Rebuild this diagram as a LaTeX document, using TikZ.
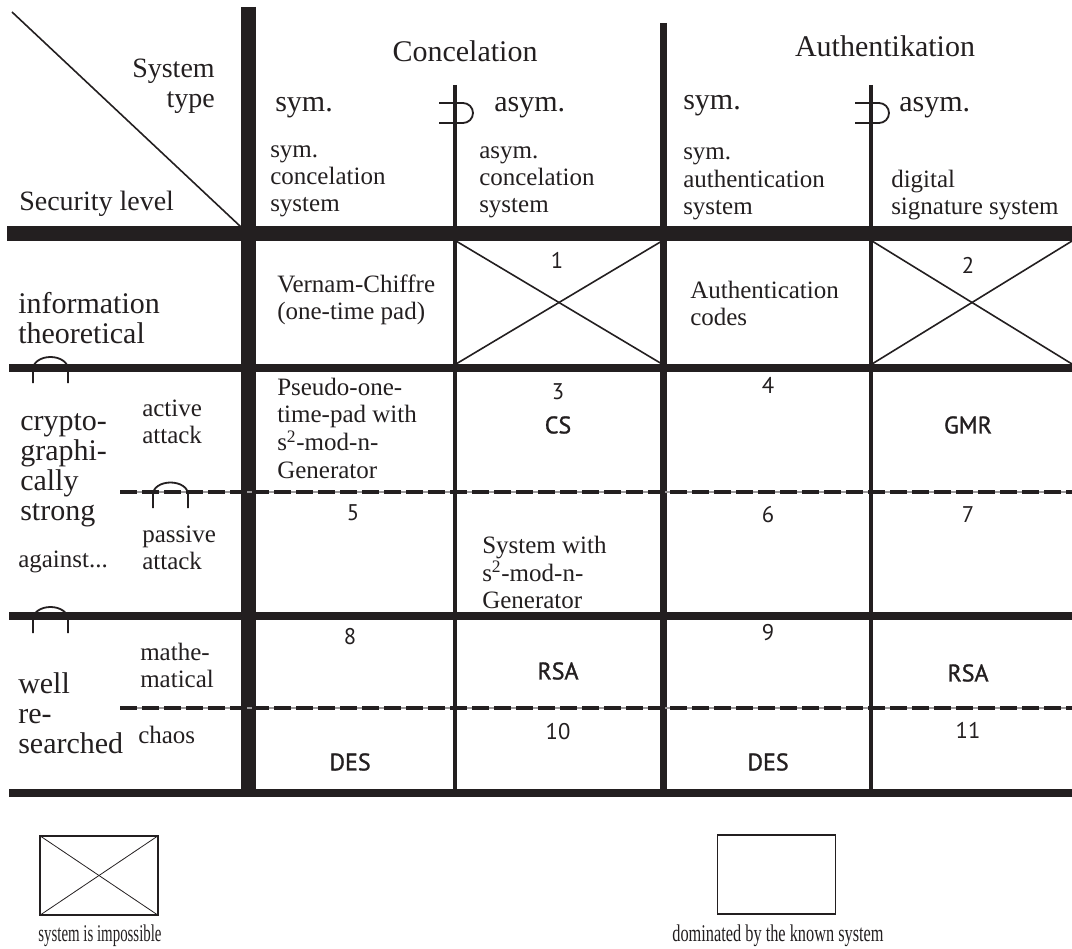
\documentclass[tikz,border=0pt]{standalone}
\usepackage{fontspec}
\setmainfont{Liberation Serif}
\newfontfamily\numfam{PT Sans}
\newfontfamily\namefam{PT Sans}[FakeBold=1.2]
\definecolor{ink}{HTML}{231F20}
% multi-line text blocks whose reference point is the first baseline
\newcommand{\lstack}[1]{\begin{tabular}[t]{@{}l@{}}#1\end{tabular}}
\newcommand{\rstack}[1]{\begin{tabular}[t]{@{}r@{}}#1\end{tabular}}
\newcommand{\bigtxt}{\fontsize{22.5}{22.5}\selectfont}
\newcommand{\hdrtxt}{\fontsize{21}{22.5}\selectfont}
\newcommand{\smalltxt}{\fontsize{18.75}{20.6}\selectfont}
\newcommand{\numtxt}{\numfam\fontsize{17}{20}\selectfont}
\newcommand{\nametxt}{\namefam\fontsize{18}{20}\selectfont}
\newcommand{\legtxt}{\fontsize{18}{20}\selectfont}
\newcommand{\narrow}[2]{\scalebox{#1}[1]{#2}}
\begin{document}
\begin{tikzpicture}[x=0.75pt,y=-0.75pt,
  every node/.style={inner sep=0pt, text=ink},
  big/.style={font=\bigtxt},
  hdr/.style={font=\hdrtxt},
  small/.style={font=\smalltxt},
  legtext/.style={font=\legtxt, anchor=base},
  num/.style={font=\numtxt, anchor=center},
  sysname/.style={font=\nametxt, anchor=center},
  heavyrule/.style={draw=ink, line width=11.25pt},
  rowrule/.style={draw=ink, line width=6pt},
  splitrule/.style={draw=ink, line width=5.25pt},
  subrule/.style={draw=ink, line width=2.6pt},
  dashrule/.style={draw=ink, line width=3pt, dash pattern=on 13pt off 3.5pt},
  gapline/.style={draw=ink!45, line width=1.5pt},
  thinline/.style={draw=ink, line width=1.2pt},
  marker/.style={draw=ink, line width=1.35pt},
  legendbox/.style={draw=ink, line width=0.8pt, minimum width=88.5pt, minimum height=59.25pt},
  legendline/.style={draw=ink, line width=0.6pt}
]
\useasboundingbox (0,0) rectangle (1072,949);

% ---- grid rules ----
\draw[heavyrule] (248,7) -- (248,797);
\draw[heavyrule] (7,233.5) -- (1072,233.5);
\draw[splitrule] (663,23) -- (663,797);
\draw[subrule] (455,85) -- (455,797);
\draw[subrule] (871,85) -- (871,797);
\draw[rowrule] (9,368) -- (1072,368);
\draw[rowrule] (9,616) -- (1072,616);
\draw[rowrule] (9,793) -- (1072,793);
\draw[gapline] (120,492) -- (1072,492);
\draw[dashrule] (120,492) -- (1072,492);
\draw[gapline] (120,708) -- (1072,708);
\draw[dashrule] (120,708) -- (1072,708);

% corner diagonal
\draw[thinline] (12,12) -- (241,227);

% superset marks on the sym./asym. dividers
\draw[marker] (439,103) -- (463,103) arc[start angle=-90, end angle=90, radius=10] -- (439,123);
\draw[marker] (855,103) -- (879,103) arc[start angle=-90, end angle=90, radius=10] -- (855,123);

% inclusion arches on the security level rules
\draw[marker] (33,383) -- (33,369) arc[start angle=180, end angle=360, x radius=17.5, y radius=12] -- (68,383);
\draw[marker] (153,508) -- (153,494) arc[start angle=180, end angle=360, x radius=17.5, y radius=11.5] -- (188,508);
\draw[marker] (33,633) -- (33,619) arc[start angle=180, end angle=360, x radius=17.5, y radius=12] -- (68,633);

% impossible cells
\draw[thinline] (456,241) -- (662,364);
\draw[thinline] (456,364) -- (662,241);
\draw[thinline] (872,241) -- (1072,364);
\draw[thinline] (872,364) -- (1072,241);

% ---- header ----
\node[big, anchor=base] (conc) at (465,62) {Concelation};
\node[big, anchor=base] (auth) at (885,57) {Authentikation};
\node[hdr, anchor=base east] (systype) at (215,78) {\rstack{System\\type}};
\node[hdr, anchor=base west] (seclevel) at (19,210) {Security level};
\node[big, anchor=base west] (csym) at (275,112) {sym.};
\node[big, anchor=base west] (casym) at (494,112) {asym.};
\node[big, anchor=base west] (asym) at (683,110) {sym.};
\node[big, anchor=base west] (aasym) at (899,112) {asym.};
\node[small, anchor=base west] (h1) at (270,157) {\lstack{sym.\\concelation\\system}};
\node[small, anchor=base west] (h2) at (479,158) {\lstack{asym.\\concelation\\system}};
\node[small, anchor=base west] (h3) at (683,160) {\lstack{sym.\\authentication\\system}};
\node[small, anchor=base west] (h4) at (891,187) {\lstack{digital\\signature system}};

% ---- security levels ----
\node[big, anchor=base west] (infot) at (18,313) {\lstack{information\\theoretical}};
\node[big, anchor=base west] (crypt) at (20,430) {\lstack{crypto-\\graphi-\\cally\\strong}};
\node[small, anchor=base west] (against) at (18,567) {against...};
\node[small, anchor=base west] (active) at (142,416) {\lstack{active\\attack}};
\node[small, anchor=base west] (passive) at (142,542) {\lstack{passive\\attack}};
\node[small, anchor=base west] (math) at (140,660) {\lstack{mathe-\\matical}};
\node[big, anchor=base west] (well) at (18,693) {\lstack{well\\re-\\searched}};
\node[small, anchor=base west] (chaos) at (138,743) {chaos};

% ---- cell contents ----
\node[small, anchor=base west] (vernam) at (277,292) {\lstack{Vernam-Chiffre\\(one-time pad)}};
\node[small, anchor=base west] (authcodes) at (690,298) {\lstack{Authentication\\codes}};
\node[small, anchor=base west] (pseudo) at (277,395) {\lstack{Pseudo-one-\\time-pad with\\s\textsuperscript{2}-mod-n-\\Generator}};
\node[small, anchor=base west] (sysgen) at (482,553) {\lstack{System with\\s\textsuperscript{2}-mod-n-\\Generator}};

\node[num] (n1) at (557,260) {1};
\node[num] (n2) at (968,265) {2};
\node[num] (n3) at (558,392) {3};
\node[sysname] (cs) at (558,425) {CS};
\node[num] (n4) at (768,385) {4};
\node[sysname] (gmr) at (968,425) {GMR};
\node[num] (n5) at (353,513) {5};
\node[num] (n6) at (768,515) {6};
\node[num] (n7) at (968,515) {7};
\node[num] (n8) at (350,637) {8};
\node[sysname] (rsa1) at (558,671) {RSA};
\node[num] (n9) at (768,633) {9};
\node[sysname] (rsa2) at (968,673) {RSA};
\node[num] (n10) at (558,732) {10};
\node[sysname] (des1) at (350,762) {DES};
\node[sysname] (des2) at (768,762) {DES};
\node[num] (n11) at (968,730) {11};

% ---- legend ----
\node[legendbox] (impbox) at (99,875.5) {};
\draw[legendline] (impbox.north west) -- (impbox.south east);
\draw[legendline] (impbox.south west) -- (impbox.north east);
\node[legendbox] (dombox) at (776.5,874.5) {};
\node[legtext] (implabel) at (100,941) {\narrow{0.62}{system is impossible}};
\node[legtext] (domlabel) at (778,941) {\narrow{0.68}{dominated by the known system}};
\end{tikzpicture}
\end{document}
